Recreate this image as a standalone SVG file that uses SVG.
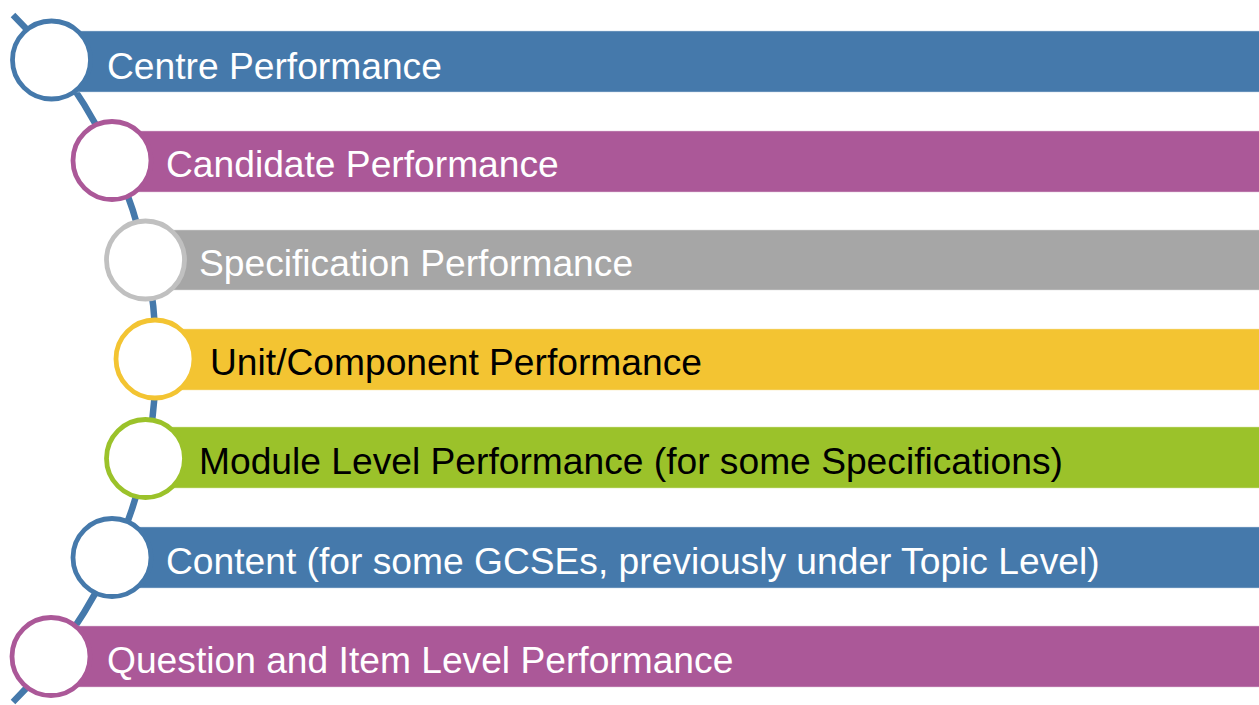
<svg xmlns="http://www.w3.org/2000/svg" width="1259" height="705" viewBox="0 0 1259 705">
<style>
.lbl{font-family:"Liberation Sans",Arial,sans-serif;font-size:37.2px}
.w{fill:#FFFFFF}
.k{fill:#000000}
.ring{fill:#FFFFFF;stroke-width:4.8}
.bar{stroke-width:1;stroke-opacity:0.5}
</style>
<rect width="1259" height="705" fill="#FFFFFF"/>
<g id="connectors">
<path d="M 13 15 A 484 484 0 0 1 13 702" fill="none" stroke="#4579AB" stroke-width="6.5"/>
</g>
<g id="n1">
<rect class="bar" x="51" y="31" width="1209" height="61" fill="#4579AB" stroke="#C9D7E8"/>
<circle class="ring" cx="51.5" cy="60" r="39" stroke="#4579AB"/>
<text class="lbl w" x="107" y="79">Centre Performance</text>
</g>
<g id="n2">
<rect class="bar" x="112" y="131" width="1148" height="61" fill="#AB5898" stroke="#E6C8DE"/>
<circle class="ring" cx="112" cy="160.5" r="39" stroke="#AB5898"/>
<text class="lbl w" x="166" y="177">Candidate Performance</text>
</g>
<g id="n3">
<rect class="bar" x="145" y="230" width="1115" height="60" fill="#A6A6A6" stroke="#DDDDDD"/>
<circle class="ring" cx="145.5" cy="260" r="39" stroke="#C0C0C0"/>
<text class="lbl w" x="199" y="276">Specification Performance</text>
</g>
<g id="n4">
<rect class="bar" x="155" y="329" width="1105" height="61" fill="#F3C432" stroke="#FAE6A8"/>
<circle class="ring" cx="155" cy="359" r="39" stroke="#F3C432"/>
<text class="lbl k" x="210" y="375">Unit/Component Performance</text>
</g>
<g id="n5">
<rect class="bar" x="145" y="427" width="1115" height="61" fill="#9BC22A" stroke="#D7E8A8"/>
<circle class="ring" cx="145.5" cy="458.5" r="39" stroke="#9BC22A"/>
<text class="lbl k" x="199" y="474">Module Level Performance (for some Specifications)</text>
</g>
<g id="n6">
<rect class="bar" x="112" y="527" width="1148" height="61" fill="#4579AB" stroke="#C9D7E8"/>
<circle class="ring" cx="112" cy="557.5" r="39" stroke="#4579AB"/>
<text class="lbl w" x="166" y="574">Content (for some GCSEs, previously under Topic Level)</text>
</g>
<g id="n7">
<rect class="bar" x="51" y="626" width="1209" height="61" fill="#AB5898" stroke="#E6C8DE"/>
<circle class="ring" cx="51" cy="656.5" r="39" stroke="#AB5898"/>
<text class="lbl w" x="107" y="673">Question and Item Level Performance</text>
</g>
</svg>
